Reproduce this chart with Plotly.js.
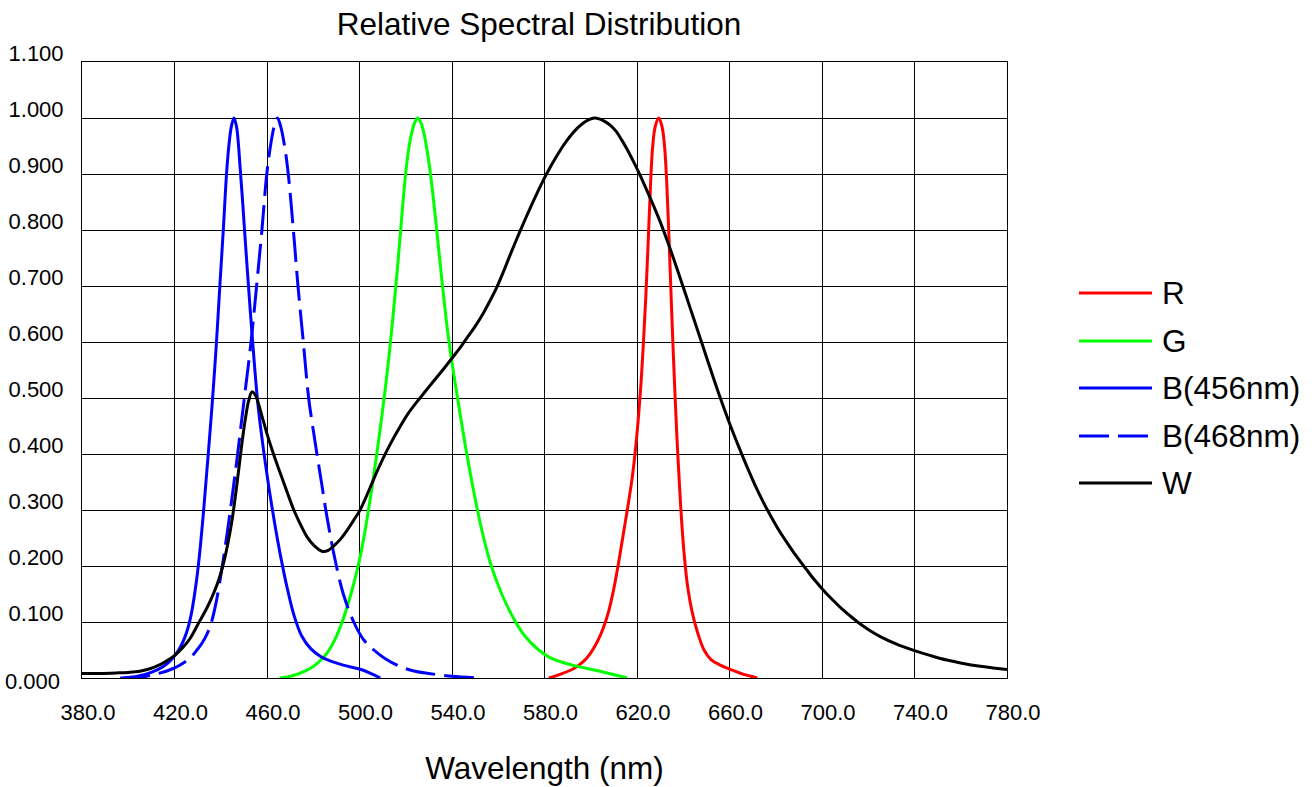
<!DOCTYPE html>
<html>
<head>
<meta charset="utf-8">
<script src="https://cdn.plot.ly/plotly-3.0.1.min.js"></script>
<style>html,body{margin:0;padding:0;background:#fff;}#chart{width:1316px;height:787px;}</style>
</head>
<body>
<div id="chart"></div>
<script>
// ---- Data ----
const seriesNames = ["R", "G", "B(456nm)", "B(468nm)", "W"];

const wlR  = [581.9, 587.0, 592.7, 597.0, 600.0, 603.0, 605.5, 607.8, 610.0, 612.0, 614.0, 616.0, 618.0, 619.5, 620.7, 621.8, 622.8, 623.8, 624.8, 625.8, 626.7, 627.9, 629.4, 630.8, 631.9, 632.8, 633.7, 634.6, 635.5, 636.5, 637.5, 638.7, 640.2, 642.0, 644.0, 646.3, 649.0, 652.0, 656.0, 660.0, 665.0, 672.0];
const valR = [0.000, 0.007, 0.017, 0.030, 0.045, 0.066, 0.090, 0.120, 0.160, 0.205, 0.255, 0.305, 0.360, 0.415, 0.470, 0.530, 0.600, 0.680, 0.775, 0.875, 0.945, 0.985, 1.000, 0.985, 0.950, 0.890, 0.800, 0.700, 0.600, 0.500, 0.410, 0.320, 0.230, 0.160, 0.115, 0.080, 0.050, 0.033, 0.023, 0.016, 0.008, 0.000];

const wlG  = [465.5, 471.0, 477.3, 482.0, 486.0, 489.5, 492.5, 496.3, 499.4, 501.4, 503.3, 505.2, 507.3, 509.1, 510.8, 512.5, 514.0, 515.5, 517.0, 518.4, 519.7, 521.1, 522.5, 523.9, 525.2, 526.5, 527.9, 529.3, 530.7, 532.1, 533.4, 535.9, 538.7, 542.4, 546.4, 551.0, 553.7, 557.0, 561.5, 567.5, 571.5, 577.5, 583.0, 592.0, 604.0, 615.7];
const valG = [0.000, 0.004, 0.014, 0.027, 0.045, 0.070, 0.100, 0.150, 0.200, 0.240, 0.285, 0.335, 0.395, 0.450, 0.505, 0.565, 0.625, 0.690, 0.760, 0.830, 0.890, 0.940, 0.972, 0.992, 1.000, 0.992, 0.972, 0.940, 0.900, 0.850, 0.800, 0.700, 0.600, 0.500, 0.400, 0.300, 0.250, 0.200, 0.150, 0.100, 0.075, 0.050, 0.035, 0.023, 0.012, 0.000];

const wlB456  = [398.0, 404.0, 410.0, 415.0, 418.0, 420.5, 422.5, 424.5, 426.0, 427.3, 428.7, 430.0, 431.3, 432.4, 433.4, 434.4, 436.3, 438.0, 439.6, 441.1, 442.5, 443.5, 444.6, 445.7, 446.8, 447.6, 448.4, 449.3, 450.2, 451.9, 453.8, 455.8, 457.3, 458.8, 460.4, 462.2, 464.0, 466.0, 468.5, 471.6, 475.0, 479.0, 483.0, 487.0, 493.0, 500.0, 505.0, 509.0];
const valB456 = [0.000, 0.003, 0.010, 0.020, 0.030, 0.042, 0.055, 0.073, 0.092, 0.115, 0.150, 0.190, 0.240, 0.290, 0.340, 0.390, 0.490, 0.590, 0.700, 0.800, 0.900, 0.950, 0.985, 1.000, 0.985, 0.955, 0.910, 0.860, 0.805, 0.705, 0.600, 0.500, 0.445, 0.398, 0.352, 0.304, 0.260, 0.215, 0.165, 0.113, 0.075, 0.052, 0.039, 0.031, 0.023, 0.016, 0.008, 0.000];

const wlB468  = [396.5, 402.0, 406.6, 410.0, 413.8, 417.0, 420.0, 423.5, 426.8, 429.7, 432.0, 434.0, 436.0, 438.0, 440.3, 442.3, 444.1, 445.6, 447.0, 448.6, 450.2, 453.1, 455.5, 457.8, 459.9, 461.5, 463.1, 464.5, 465.9, 467.6, 469.2, 471.4, 473.4, 475.7, 478.0, 480.0, 481.9, 483.6, 485.3, 487.3, 489.6, 493.0, 497.5, 501.5, 506.2, 511.0, 517.8, 524.0, 530.0, 540.0, 552.0];
const valB468 = [0.000, 0.0005, 0.002, 0.005, 0.009, 0.013, 0.018, 0.026, 0.036, 0.050, 0.063, 0.078, 0.100, 0.135, 0.190, 0.245, 0.298, 0.345, 0.390, 0.445, 0.500, 0.600, 0.700, 0.800, 0.900, 0.950, 0.985, 1.000, 0.985, 0.950, 0.900, 0.800, 0.700, 0.600, 0.500, 0.443, 0.392, 0.348, 0.303, 0.256, 0.208, 0.150, 0.100, 0.070, 0.050, 0.035, 0.020, 0.012, 0.008, 0.003, 0.000];

const wlW  = [380.0, 388.0, 395.0, 400.0, 405.0, 409.0, 412.3, 416.0, 420.0, 423.5, 426.8, 430.4, 434.0, 437.0, 439.5, 441.5, 443.3, 445.0, 446.5, 448.0, 449.5, 450.8, 452.0, 453.5, 455.0, 456.3, 458.0, 460.0, 462.8, 465.8, 468.7, 471.6, 474.5, 477.3, 480.5, 484.0, 486.5, 488.9, 491.8, 494.7, 497.5, 500.0, 502.5, 504.8, 507.5, 510.4, 514.0, 517.6, 521.0, 524.8, 528.5, 532.0, 536.0, 540.0, 543.2, 546.4, 550.0, 553.6, 556.5, 559.4, 562.3, 565.2, 568.0, 570.9, 573.8, 576.7, 580.0, 582.6, 585.3, 588.0, 591.0, 594.0, 596.8, 599.2, 601.5, 604.0, 606.0, 608.5, 611.0, 613.5, 616.0, 618.5, 620.5, 623.5, 627.0, 630.0, 632.9, 635.8, 638.7, 641.6, 644.5, 647.4, 650.2, 655.0, 660.0, 663.8, 667.5, 671.0, 674.5, 678.0, 681.5, 685.0, 689.0, 693.4, 697.0, 701.0, 705.0, 709.0, 713.0, 717.0, 721.0, 725.2, 732.0, 740.0, 747.0, 754.0, 761.0, 768.4, 774.0, 780.0];
const valW = [0.008, 0.008, 0.009, 0.010, 0.012, 0.016, 0.021, 0.029, 0.040, 0.054, 0.071, 0.098, 0.125, 0.152, 0.180, 0.210, 0.245, 0.285, 0.330, 0.380, 0.430, 0.467, 0.494, 0.511, 0.505, 0.490, 0.465, 0.436, 0.400, 0.365, 0.332, 0.300, 0.274, 0.252, 0.236, 0.226, 0.228, 0.236, 0.248, 0.264, 0.282, 0.298, 0.320, 0.342, 0.368, 0.394, 0.423, 0.449, 0.472, 0.493, 0.512, 0.530, 0.550, 0.571, 0.588, 0.607, 0.628, 0.652, 0.674, 0.698, 0.726, 0.756, 0.784, 0.812, 0.839, 0.865, 0.893, 0.913, 0.932, 0.950, 0.967, 0.981, 0.991, 0.997, 1.000, 0.998, 0.994, 0.987, 0.976, 0.960, 0.942, 0.922, 0.905, 0.878, 0.845, 0.815, 0.783, 0.749, 0.714, 0.678, 0.642, 0.606, 0.571, 0.512, 0.455, 0.415, 0.378, 0.345, 0.315, 0.288, 0.263, 0.241, 0.217, 0.193, 0.174, 0.155, 0.138, 0.122, 0.108, 0.095, 0.084, 0.074, 0.061, 0.049, 0.040, 0.032, 0.026, 0.021, 0.018, 0.015];

const xTickVals = [380, 420, 460, 500, 540, 580, 620, 660, 700, 740, 780];
const yTickVals = [0, 0.1, 0.2, 0.3, 0.4, 0.5, 0.6, 0.7, 0.8, 0.9, 1.0, 1.1];

// ---- Styles ----
const colors = ["#ff0000", "#00ff00", "#0000ff", "#0000ff", "#000000"];
const dashes = ["solid", "solid", "solid", "30px,9px", "solid"];
const xs = [wlR, wlG, wlB456, wlB468, wlW];
const ys = [valR, valG, valB456, valB468, valW];
const FONT = "Liberation Sans, Arial, Helvetica, sans-serif";
const BIG = 31.5, TICK = 22;

const traces = seriesNames.map((n, i) => ({
  type: "scatter", mode: "lines", name: n,
  x: xs[i], y: ys[i],
  line: {color: colors[i], width: 3, dash: dashes[i], shape: "spline", smoothing: 1},
  showlegend: false, hoverinfo: "skip"
}));

// plot area in pixels
const L = 82, R = 1007, T = 62, B = 678, W = 1316, H = 787;
const pw = R - L, ph = B - T;
const px2x = p => (p - L) / pw;
const py2y = p => (B - p) / ph;

// custom legend (long line samples as in the reference)
const legRows = [293, 341, 388, 436, 483];
const shapes = [];
const annotations = [];
seriesNames.forEach((n, i) => {
  shapes.push({type: "line", xref: "paper", yref: "paper",
    x0: px2x(1079), x1: px2x(1152), y0: py2y(legRows[i]), y1: py2y(legRows[i]),
    line: {color: colors[i], width: 3, dash: dashes[i]}});
  annotations.push({xref: "paper", yref: "paper", x: px2x(1160), y: py2y(legRows[i]),
    xanchor: "left", yanchor: "middle", text: n, showarrow: false,
    font: {family: FONT, size: BIG, color: "#000"}});
});

// the lowest y tick label sits just below its grid line in the reference
const yLabelTicks = yTickVals.slice(1);
annotations.push({xref: "paper", yref: "y", x: px2x(62), y: yTickVals[0], yshift: -3,
  xanchor: "right", yanchor: "middle", showarrow: false, text: yTickVals[0].toFixed(3),
  font: {family: FONT, size: TICK, color: "#000"}});

const layout = {
  width: W, height: H,
  margin: {l: L, r: W - R, t: T, b: H - B, pad: 0},
  paper_bgcolor: "#fff", plot_bgcolor: "#fff",
  font: {family: FONT, color: "#000"},
  title: {text: "Relative Spectral Distribution", font: {family: FONT, size: BIG, color: "#000"},
    xref: "container", yref: "container", x: 539 / W, y: 1 - 24 / H, xanchor: "center", yanchor: "middle"},
  xaxis: {
    range: [380, 780], tickvals: xTickVals, tickformat: ".1f",
    showgrid: true, gridcolor: "#000", gridwidth: 1,
    showline: true, linecolor: "#000", linewidth: 1, mirror: true,
    zeroline: false, ticks: "", ticklabelstandoff: 15, ticklabelshift: 6,
    tickfont: {family: FONT, size: TICK, color: "#000"},
    title: {text: "Wavelength (nm)", font: {family: FONT, size: BIG, color: "#000"}, standoff: 32}
  },
  yaxis: {
    range: [0, 1.1], tickvals: yLabelTicks, tickformat: ".3f",
    showgrid: true, gridcolor: "#000", gridwidth: 1,
    showline: true, linecolor: "#000", linewidth: 1, mirror: true,
    zeroline: false, ticks: "", ticklabelstandoff: 13, ticklabelshift: -9,
    tickfont: {family: FONT, size: TICK, color: "#000"}
  },
  showlegend: false,
  shapes: shapes,
  annotations: annotations
};

Plotly.newPlot("chart", traces, layout, {staticPlot: true, displayModeBar: false});
</script>
</body>
</html>
